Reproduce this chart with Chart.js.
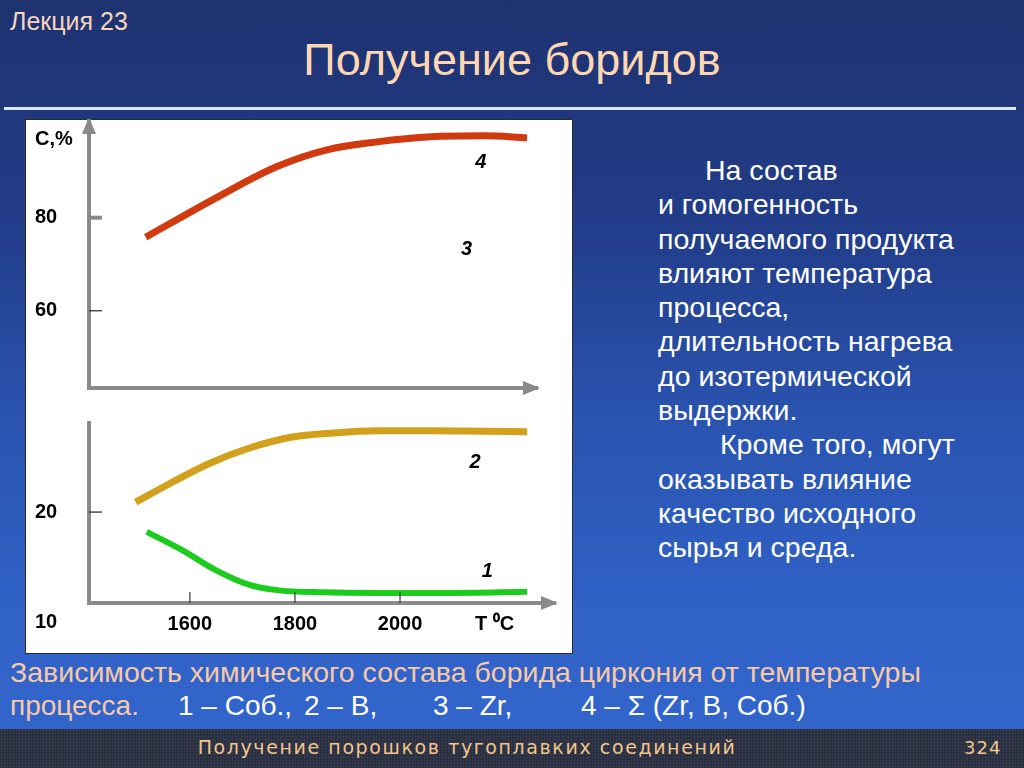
<!DOCTYPE html>
<html>
<head>
<meta charset="utf-8">
<script src="https://cdn.jsdelivr.net/npm/chart.js@4.4.1/dist/chart.umd.min.js"></script>
<style>
    body {
        margin: 0;
        width: 1024px;
        height: 768px;
        overflow: hidden;
        position: relative;
        font-family: "Liberation Sans", Arial, sans-serif;
        background: linear-gradient(#1e3270 0%, #223d8a 30%, #2a54b0 55%, #3062c8 80%, #3366cc 100%);
    }
    .abs { position: absolute; white-space: nowrap; }
    #lecture { left: 10px; top: 7px; font-size: 25px; color: #f5d5bd; }
    #title { left: 0; width: 1024px; text-align: center; top: 34px; font-size: 45px; color: #fdd7b2; }
    #rule { left: 4px; top: 107px; width: 1012px; height: 3px; background: #dde6f5; }
    #panel { left: 25px; top: 119px; width: 546px; height: 533px; background: #fff; border: 1px solid #2a2a2a; }
    #side { left: 658px; top: 153px; font-size: 28.5px; line-height: 34.3px; color: #fff; }
    #caption1 { left: 10px; top: 656px; font-size: 28.5px; color: #f7c9a6; }
    .cap2 { top: 690px; font-size: 28px; color: #fff; }
    #footer { left: 0; top: 729px; width: 1024px; height: 39px; background-color: #2a2f40;
        background-image: radial-gradient(#3b4152 0.8px, transparent 1.1px); background-size: 3px 3px; }
    #footText { left: 0; width: 934px; text-align: center; top: 736px; font-family: "DejaVu Sans", sans-serif; font-size: 19px; letter-spacing: 1.6px; color: #f2c58c; }
    #page { left: 964px; top: 737px; font-family: "DejaVu Sans", sans-serif; font-size: 18px; letter-spacing: 1px; color: #f2c58c; }
</style>
</head>
<body>
<div class="abs" id="lecture">Лекция 23</div>
<div class="abs" id="title">Получение боридов</div>
<div class="abs" id="rule"></div>
<div class="abs" id="panel"></div>
<canvas class="abs" id="topChart" width="548" height="290" style="left:25px;top:119px"></canvas>
<canvas class="abs" id="bottomChart" width="548" height="245" style="left:25px;top:409px"></canvas>

<div class="abs" id="side">
    <div style="padding-left:47px">На состав</div>
    <div>и гомогенность</div>
    <div>получаемого продукта</div>
    <div>влияют температура</div>
    <div>процесса,</div>
    <div>длительность нагрева</div>
    <div>до изотермической</div>
    <div>выдержки.</div>
    <div style="padding-left:62px">Кроме того, могут</div>
    <div>оказывать влияние</div>
    <div>качество исходного</div>
    <div>сырья и среда.</div>
</div>

<div class="abs" id="caption1">Зависимость химического состава борида циркония от температуры</div>
<div class="abs cap2" style="left:10px;color:#f7c9a6">процесса.</div>
<div class="abs cap2" style="left:178px">1 – Соб.,</div>
<div class="abs cap2" style="left:304px">2 – В,</div>
<div class="abs cap2" style="left:433px">3 – Zr,</div>
<div class="abs cap2" style="left:581px">4 – Σ (Zr, B, Соб.)</div>

<div class="abs" id="footer"></div>
<div class="abs" id="footText">Получение порошков тугоплавких соединений</div>
<div class="abs" id="page">324</div>

<script>
// данные (T в °C, C в %)
const sumT = [1516, 1644, 1766, 1861, 1956, 2059, 2160, 2242];
const sumC = [75.8, 83.9, 91.0, 94.6, 96.3, 97.4, 97.6, 97.2];

const boronT = [1497, 1562, 1636, 1712, 1792, 1874, 1956, 2059, 2160, 2242];
const boronC = [20.9, 22.6, 24.4, 25.8, 26.8, 27.2, 27.4, 27.4, 27.35, 27.3];

const freeT = [1518, 1583, 1650, 1712, 1766, 1855, 1956, 2093, 2242];
const freeC = [18.2, 16.6, 14.7, 13.4, 12.9, 12.7, 12.65, 12.65, 12.75];

const topYTicks = [60, 80];
const bottomYTicks = [20];
const bottomYLabels = [20, 10];
const xTicks = [1600, 1800, 2000];
const xAxisLabelAt = 2180;

const topCurveNames = ['4', '3'];
const topCurveT = [2154, 2127];
const topCurveC = [91.8, 73.1];
const bottomCurveNames = ['2', '1'];
const bottomCurveT = [2143, 2166];
const bottomCurveC = [24.5, 14.6];

const axisGrey = '#8a8a8a';
const font = '"Liberation Sans", Arial, sans-serif';

function points(ts, cs) {
    return ts.map((t, i) => ({ x: t, y: cs[i] }));
}

const axisDecor = {
    id: 'axisDecor',
    afterDraw(chart, args, o) {
        const { ctx, chartArea: a, scales: { x, y } } = chart;
        ctx.save();
        // стрелки осей
        ctx.fillStyle = axisGrey;
        if (o.yArrow) {
            ctx.beginPath();
            ctx.moveTo(a.left, a.top - 3);
            ctx.lineTo(a.left - 7, a.top + 14);
            ctx.lineTo(a.left + 7, a.top + 14);
            ctx.fill();
        }
        ctx.beginPath();
        ctx.moveTo(a.right + 3, a.bottom);
        ctx.lineTo(a.right - 14, a.bottom - 7);
        ctx.lineTo(a.right - 14, a.bottom + 7);
        ctx.fill();

        // короткие риски внутрь
        (o.yTicks || []).forEach(v => {
            const py = y.getPixelForValue(v);
            ctx.strokeStyle = v === o.thick ? axisGrey : '#222';
            ctx.lineWidth = v === o.thick ? 4 : 1.2;
            ctx.beginPath();
            ctx.moveTo(a.left, py);
            ctx.lineTo(a.left + 13, py);
            ctx.stroke();
        });
        (o.xTicks || []).forEach(v => {
            const px = x.getPixelForValue(v);
            ctx.strokeStyle = '#444';
            ctx.lineWidth = 1.3;
            ctx.beginPath();
            ctx.moveTo(px, a.bottom);
            ctx.lineTo(px, a.bottom - 11);
            ctx.stroke();
        });

        // подписи оси Y
        ctx.fillStyle = '#000';
        ctx.font = 'bold 20px ' + font;
        ctx.textAlign = 'left';
        ctx.textBaseline = 'middle';
        (o.yLabels || []).forEach(v => {
            ctx.fillText(String(v), 10, y.getPixelForValue(v));
        });
        if (o.title) ctx.fillText(o.title, 10, a.top + 19);

        // номера кривых
        ctx.font = 'italic bold 20px ' + font;
        ctx.textAlign = 'center';
        (o.names || []).forEach((n, i) => {
            ctx.fillText(n, x.getPixelForValue(o.namesT[i]), y.getPixelForValue(o.namesC[i]));
        });
        ctx.restore();
    }
};

function lineSet(ts, cs, color, width) {
    return {
        data: points(ts, cs),
        borderColor: color,
        borderWidth: width,
        pointRadius: 0,
        tension: 0.4,
        cubicInterpolationMode: 'monotone',
        borderCapStyle: 'butt'
    };
}

const hiddenGrid = { display: false, drawTicks: false };
const border = { color: axisGrey, width: 4 };

new Chart(document.getElementById('topChart'), {
    type: 'line',
    data: { datasets: [lineSet(sumT, sumC, '#d03a0e', 7)] },
    options: {
        responsive: false,
        animation: false,
        layout: { padding: { top: 1, right: 36, left: 10, bottom: 0 } },
        plugins: {
            legend: { display: false },
            tooltip: { enabled: false },
            axisDecor: { yArrow: true, yTicks: topYTicks, thick: 80, yLabels: topYTicks, title: 'С,%',
                names: topCurveNames, namesT: topCurveT, namesC: topCurveC }
        },
        scales: {
            x: { type: 'linear', min: 1408, max: 2261, grid: hiddenGrid, border,
                ticks: { display: false }, afterFit: s => { s.height = 21; } },
            y: { min: 43.4, max: 101, grid: hiddenGrid, border,
                ticks: { display: false }, afterFit: s => { s.width = 54; } }
        }
    },
    plugins: [axisDecor]
});

new Chart(document.getElementById('bottomChart'), {
    type: 'line',
    data: {
        datasets: [
            lineSet(boronT, boronC, '#d3a01c', 7),
            lineSet(freeT, freeC, '#1ccc1c', 6)
        ]
    },
    options: {
        responsive: false,
        animation: false,
        layout: { padding: { top: 14, right: 18, left: 10, bottom: 0 } },
        plugins: {
            legend: { display: false },
            tooltip: { enabled: false },
            axisDecor: { yArrow: false, yTicks: bottomYTicks, yLabels: bottomYLabels, xTicks: xTicks,
                names: bottomCurveNames, namesT: bottomCurveT, namesC: bottomCurveC }
        },
        scales: {
            x: {
                type: 'linear', min: 1408, max: 2295, grid: hiddenGrid, border,
                afterBuildTicks: s => { s.ticks = xTicks.concat([xAxisLabelAt]).map(v => ({ value: v })); },
                ticks: {
                    color: '#000', padding: 9,
                    font: { family: font, weight: 'bold', size: 20 },
                    callback: v => v === xAxisLabelAt ? 'T ⁰C' : String(v)
                },
                afterFit: s => { s.height = 51; }
            },
            y: { min: 11.73, max: 28.1, grid: hiddenGrid, border,
                ticks: { display: false }, afterFit: s => { s.width = 54; } }
        }
    },
    plugins: [axisDecor]
});
</script>
</body>
</html>
